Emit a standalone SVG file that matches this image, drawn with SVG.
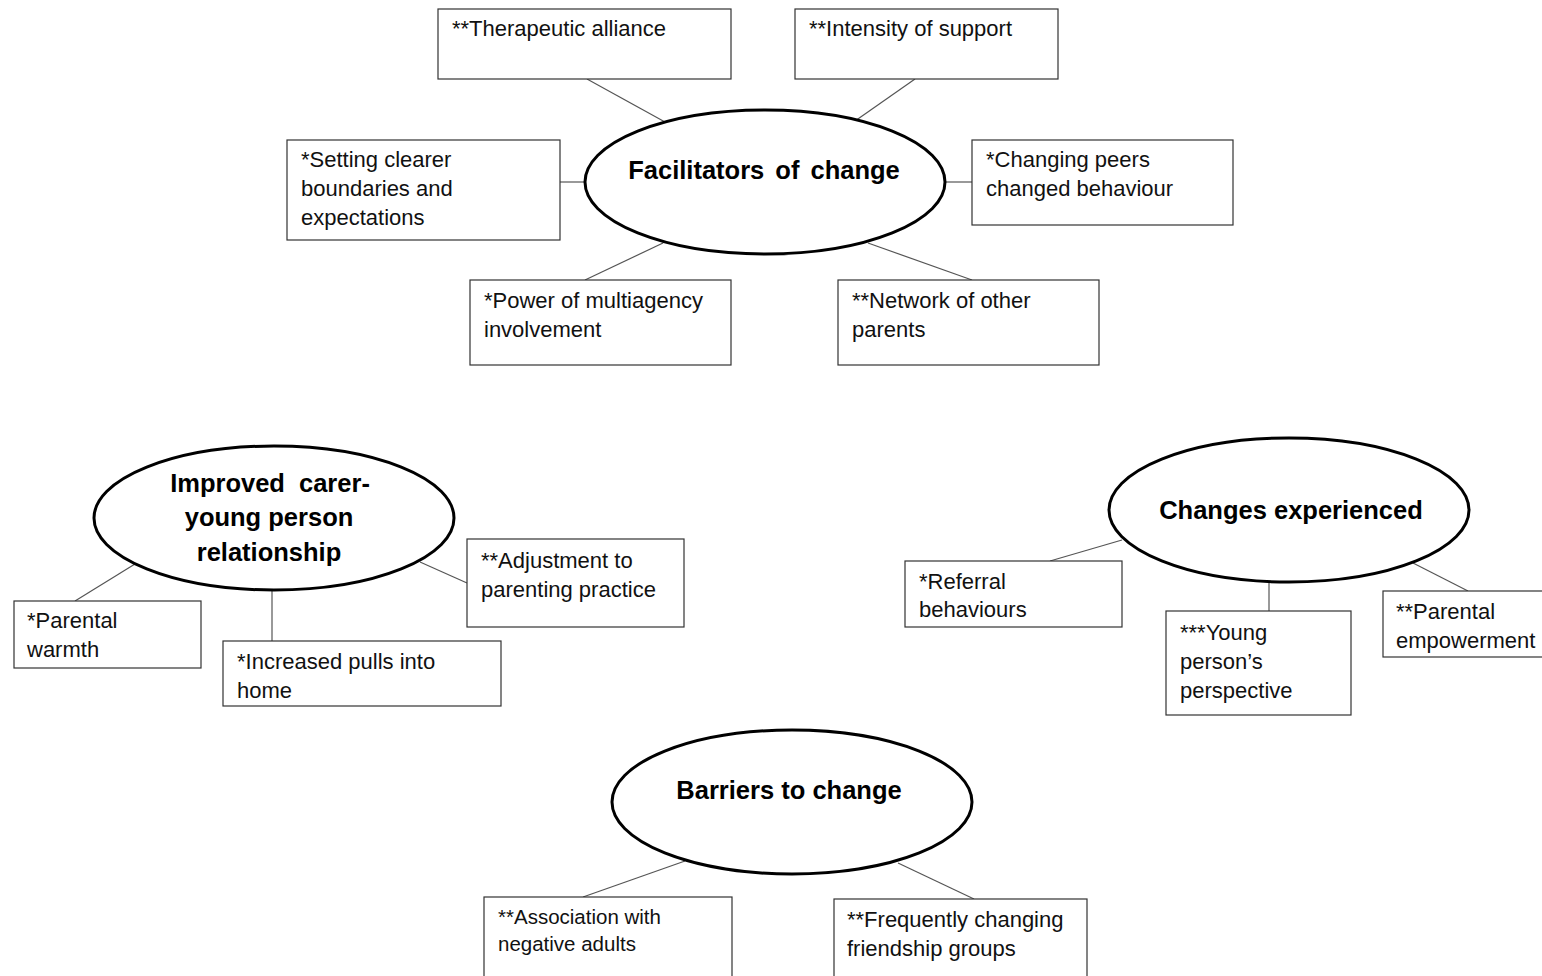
<svg xmlns="http://www.w3.org/2000/svg" width="1542" height="976" viewBox="0 0 1542 976">
<style>
.box{fill:#fff;stroke:#333;stroke-width:1.2}
.ell{fill:#fff;stroke:#000;stroke-width:3}
.t{font-family:"Liberation Sans",Arial,sans-serif;font-size:22px;fill:#111}
.h{font-family:"Liberation Sans",Arial,sans-serif;font-size:25.5px;font-weight:bold;fill:#000;text-anchor:middle}
.c line{stroke:#555;stroke-width:1.2}
</style>
<rect width="1542" height="976" fill="#fff"/>
<g class="c" id="connectors">
<line x1="587" y1="79" x2="665" y2="122"/>
<line x1="915" y1="79" x2="855" y2="121"/>
<line x1="560" y1="182" x2="586" y2="182"/>
<line x1="944" y1="182" x2="972" y2="182"/>
<line x1="585" y1="280" x2="663" y2="243"/>
<line x1="972" y1="280" x2="868" y2="243"/>
<line x1="75" y1="601" x2="135" y2="564"/>
<line x1="272" y1="590" x2="272" y2="641"/>
<line x1="420" y1="562" x2="467" y2="583"/>
<line x1="1050" y1="561" x2="1122" y2="540"/>
<line x1="1269" y1="582" x2="1269" y2="611"/>
<line x1="1468" y1="591" x2="1413" y2="563"/>
<line x1="583" y1="897" x2="685" y2="861"/>
<line x1="974" y1="899" x2="898" y2="863"/>
</g>
<g id="facilitators"><ellipse class="ell" cx="765" cy="182" rx="180" ry="72"/><text class="h" x="764" y="179" word-spacing="4">Facilitators of change</text></g>
<g id="therapeutic"><rect class="box" x="438" y="9" width="293" height="70"/><text class="t" x="452" y="36">**Therapeutic alliance</text></g>
<g id="intensity"><rect class="box" x="795" y="9" width="263" height="70"/><text class="t" x="809" y="36">**Intensity of support</text></g>
<g id="setting"><rect class="box" x="287" y="140" width="273" height="100"/><text class="t" x="301" y="167">*Setting clearer</text><text class="t" x="301" y="196">boundaries and</text><text class="t" x="301" y="225">expectations</text></g>
<g id="peers"><rect class="box" x="972" y="140" width="261" height="85"/><text class="t" x="986" y="167">*Changing peers</text><text class="t" x="986" y="196">changed behaviour</text></g>
<g id="multiagency"><rect class="box" x="470" y="280" width="261" height="85"/><text class="t" x="484" y="308">*Power of multiagency</text><text class="t" x="484" y="337">involvement</text></g>
<g id="network"><rect class="box" x="838" y="280" width="261" height="85"/><text class="t" x="852" y="308">**Network of other</text><text class="t" x="852" y="337">parents</text></g>
<g id="improved"><ellipse class="ell" cx="274" cy="518" rx="180" ry="72"/><text class="h" x="270" y="492" word-spacing="7">Improved carer-</text><text class="h" x="269" y="526">young person</text><text class="h" x="269" y="561">relationship</text></g>
<g id="warmth"><rect class="box" x="14" y="601" width="187" height="67"/><text class="t" x="27" y="628">*Parental</text><text class="t" x="27" y="657">warmth</text></g>
<g id="pulls"><rect class="box" x="223" y="641" width="278" height="65"/><text class="t" x="237" y="669">*Increased pulls into</text><text class="t" x="237" y="698">home</text></g>
<g id="adjustment"><rect class="box" x="467" y="539" width="217" height="88"/><text class="t" x="481" y="568">**Adjustment to</text><text class="t" x="481" y="597">parenting practice</text></g>
<g id="changes"><ellipse class="ell" cx="1289" cy="510" rx="180" ry="72"/><text class="h" x="1291" y="519">Changes experienced</text></g>
<g id="referral"><rect class="box" x="905" y="561" width="217" height="66"/><text class="t" x="919" y="589">*Referral</text><text class="t" x="919" y="617">behaviours</text></g>
<g id="young"><rect class="box" x="1166" y="611" width="185" height="104"/><text class="t" x="1180" y="640">***Young</text><text class="t" x="1180" y="669">person’s</text><text class="t" x="1180" y="698">perspective</text></g>
<g id="empowerment"><rect class="box" x="1383" y="591" width="165" height="66"/><text class="t" x="1396" y="619">**Parental</text><text class="t" x="1396" y="648">empowerment</text></g>
<g id="barriers"><ellipse class="ell" cx="792" cy="802" rx="180" ry="72"/><text class="h" x="789" y="799">Barriers to change</text></g>
<g id="association"><rect class="box" x="484" y="897" width="248" height="90"/><text class="t" x="498" y="924" style="font-size:20.5px">**Association with</text><text class="t" x="498" y="951" style="font-size:20.5px">negative adults</text></g>
<g id="frequently"><rect class="box" x="834" y="899" width="253" height="90"/><text class="t" x="847" y="927">**Frequently changing</text><text class="t" x="847" y="956">friendship groups</text></g>
</svg>
